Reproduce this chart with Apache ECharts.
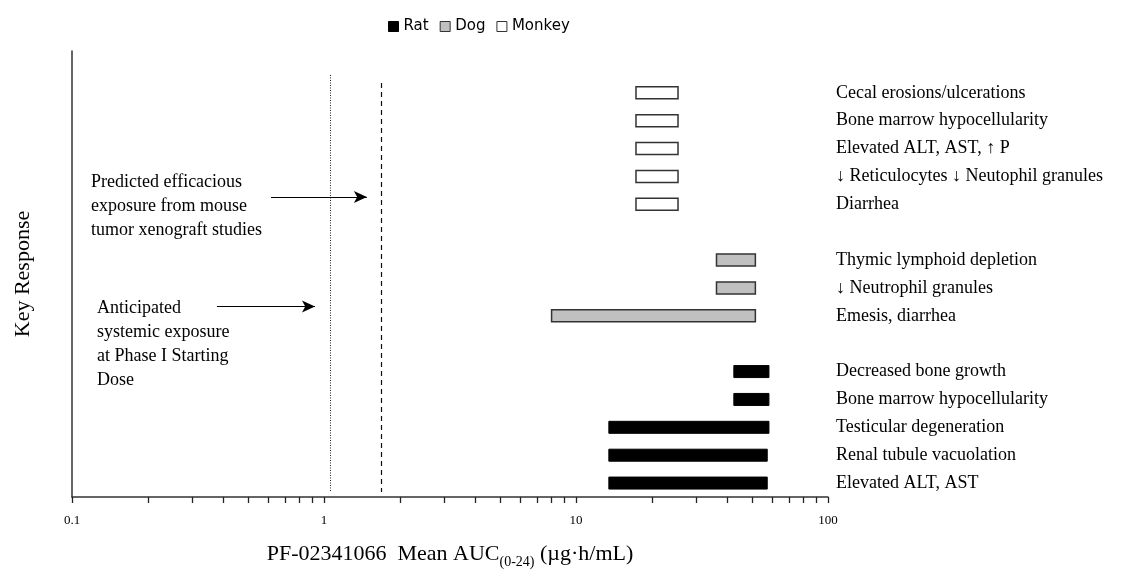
<!DOCTYPE html>
<html><head><meta charset="utf-8">
<script src="https://cdn.jsdelivr.net/npm/echarts@6/dist/echarts.min.js"></script>
<style>html,body{margin:0;padding:0;background:#fff}#c{width:1138px;height:581px}</style>
</head><body><div id="c"></div>
<script>
// ---- data ----
const categories = ['', 'Cecal erosions/ulcerations', 'Bone marrow hypocellularity', 'Elevated ALT, AST, \u2191 P',
  '\u2193 Reticulocytes \u2193 Neutophil granules', 'Diarrhea', '',
  'Thymic lymphoid depletion', '\u2193 Neutrophil granules', 'Emesis, diarrhea', '',
  'Decreased bone growth', 'Bone marrow hypocellularity', 'Testicular degeneration',
  'Renal tubule vacuolation', 'Elevated ALT, AST'];
const seriesNames = ['Rat', 'Dog', 'Monkey'];
// [row index, start AUC, end AUC]
const ratBars = [[11, 42.3, 58.3], [12, 42.3, 58.3], [13, 13.5, 58.3], [14, 13.5, 57.4], [15, 13.5, 57.4]];
const dogBars = [[7, 36.1, 51.5], [8, 36.1, 51.5], [9, 8.0, 51.5]];
const monkeyBars = [[1, 17.3, 25.4], [2, 17.3, 25.4], [3, 17.3, 25.4], [4, 17.3, 25.4], [5, 17.3, 25.4]];
const xTickValues = [0.1, 0.2, 0.3, 0.4, 0.5, 0.6, 0.7, 0.8, 0.9, 1, 2, 3, 4, 5, 6, 7, 8, 9, 10, 20, 30, 40, 50, 60, 70, 80, 90, 100];
const xLabelValues = [0.1, 1, 10, 100];
// exposure reference lines (AUC)
const anticipatedExposure = 1.056;
const efficaciousExposure = 1.68;
// arrows: [fromAUC, toAUC, row position]
const arrowEfficacious = [0.616, 1.48, 4.74];
const arrowAnticipated = [0.376, 0.921, 8.67];

const styles = {
  Rat: { fill: '#000000', stroke: '#000000', lineWidth: 1 },
  Dog: { fill: '#c0c0c0', stroke: '#333333', lineWidth: 1.5 },
  Monkey: { fill: '#ffffff', stroke: '#333333', lineWidth: 1.5 }
};

function barSeries(name, data) {
  const st = styles[name];
  return {
    name: name, type: 'custom', xAxisIndex: 0, yAxisIndex: 0,
    data: data, encode: { x: [1, 2], y: 0 },
    itemStyle: { color: st.fill, borderColor: st.stroke, borderWidth: st.lineWidth },
    renderItem: function (params, api) {
      const row = api.value(0);
      const p0 = api.coord([api.value(1), row]);
      const p1 = api.coord([api.value(2), row]);
      const h = 12;
      return {
        type: 'rect',
        shape: { x: p0[0], y: p0[1] - h / 2, width: p1[0] - p0[0], height: h },
        style: { fill: st.fill, stroke: st.stroke, lineWidth: st.lineWidth }
      };
    }
  };
}

const chart = echarts.init(document.getElementById('c'));
const serif = '"Liberation Serif", "Times New Roman", serif';
chart.setOption({
  animation: false,
  backgroundColor: '#ffffff',
  grid: { left: 72, right: 310, top: 51, bottom: 84, containLabel: false, outerBoundsMode: 'none' },
  legend: {
    left: 383, top: 14, itemWidth: 10, itemHeight: 10, itemGap: 11,
    textStyle: { fontFamily: '"DejaVu Sans", sans-serif', fontSize: 15, color: '#000' },
    data: seriesNames.map(n => ({ name: n, icon: 'rect',
      itemStyle: { color: styles[n].fill, borderColor: styles[n].stroke, borderWidth: 1 } }))
  },
  xAxis: {
    type: 'log', logBase: 10, min: 0.1, max: 100,
    name: '{m|PF-02341066  Mean AUC}{s|(0-24)}{m| (\u00b5g\u00b7h/mL)}',
    nameLocation: 'middle', nameGap: 42,
    nameTextStyle: {
      rich: {
        m: { fontFamily: serif, fontSize: 22, color: '#000', lineHeight: 26, verticalAlign: 'bottom' },
        s: { fontFamily: serif, fontSize: 14, color: '#000', lineHeight: 22, verticalAlign: 'bottom', padding: [0, 0, -4, 0] }
      }
    },
    axisLine: { show: true, onZero: false, lineStyle: { color: '#333', width: 1.5 } },
    axisTick: { show: true, length: 6, inside: false, customValues: xTickValues, lineStyle: { color: '#222', width: 1.3 } },
    axisLabel: { customValues: xLabelValues, fontFamily: serif, fontSize: 13, color: '#000', margin: 17 },
    splitLine: { show: false },
    minorTick: { show: false }, minorSplitLine: { show: false }
  },
  yAxis: [
    {
      type: 'category', data: categories, inverse: true, position: 'left',
      name: 'Key Response', nameLocation: 'middle', nameRotate: 90, nameGap: 38,
      nameTextStyle: { fontFamily: serif, fontSize: 22, color: '#000' },
      axisLine: { show: true, onZero: false, lineStyle: { color: '#333', width: 1.5 } },
      axisTick: { show: false }, axisLabel: { show: false }, splitLine: { show: false }
    },
    {
      type: 'category', data: categories, inverse: true, position: 'right',
      axisLine: { show: false, onZero: false }, axisTick: { show: false }, splitLine: { show: false },
      axisLabel: { show: true, margin: 8, align: 'left', fontFamily: serif, fontSize: 18, color: '#000' }
    },
    {
      type: 'value', min: -0.5, max: 15.5, inverse: true, show: false, splitLine: { show: false },
      axisLine: { onZero: false }
    }
  ],
  graphic: [
    { type: 'text', left: 91, top: 170, silent: true,
      style: { text: 'Predicted efficacious\nexposure from mouse\ntumor xenograft studies', font: '18px ' + serif, lineHeight: 24, fill: '#000' } },
    { type: 'text', left: 97, top: 296, silent: true,
      style: { text: 'Anticipated\nsystemic exposure\nat Phase I Starting\nDose', font: '18px ' + serif, lineHeight: 24, fill: '#000' } }
  ],
  series: [
    barSeries('Rat', ratBars),
    barSeries('Dog', dogBars),
    barSeries('Monkey', monkeyBars),
    {
      name: 'annotations', type: 'line', xAxisIndex: 0, yAxisIndex: 2, data: [], silent: true,
      markLine: {
        silent: true, animation: false, label: { show: false },
        data: [
          [{ coord: [anticipatedExposure, 0.36], symbol: 'none', lineStyle: { type: [1, 1.5], color: '#222', width: 1 } },
           { coord: [anticipatedExposure, 15.32], symbol: 'none' }],
          [{ coord: [efficaciousExposure, 0.65], symbol: 'none', lineStyle: { type: [5, 4], color: '#111', width: 1.2 } },
           { coord: [efficaciousExposure, 15.32], symbol: 'none' }],
          [{ coord: [arrowEfficacious[0], arrowEfficacious[2]], symbol: 'none', lineStyle: { type: 'solid', color: '#000', width: 1 } },
           { coord: [arrowEfficacious[1], arrowEfficacious[2]], symbol: 'arrow', symbolSize: [9, 13] }],
          [{ coord: [arrowAnticipated[0], arrowAnticipated[2]], symbol: 'none', lineStyle: { type: 'solid', color: '#000', width: 1 } },
           { coord: [arrowAnticipated[1], arrowAnticipated[2]], symbol: 'arrow', symbolSize: [9, 13] }]
        ]
      }
    }
  ]
});
</script>
</body></html>
